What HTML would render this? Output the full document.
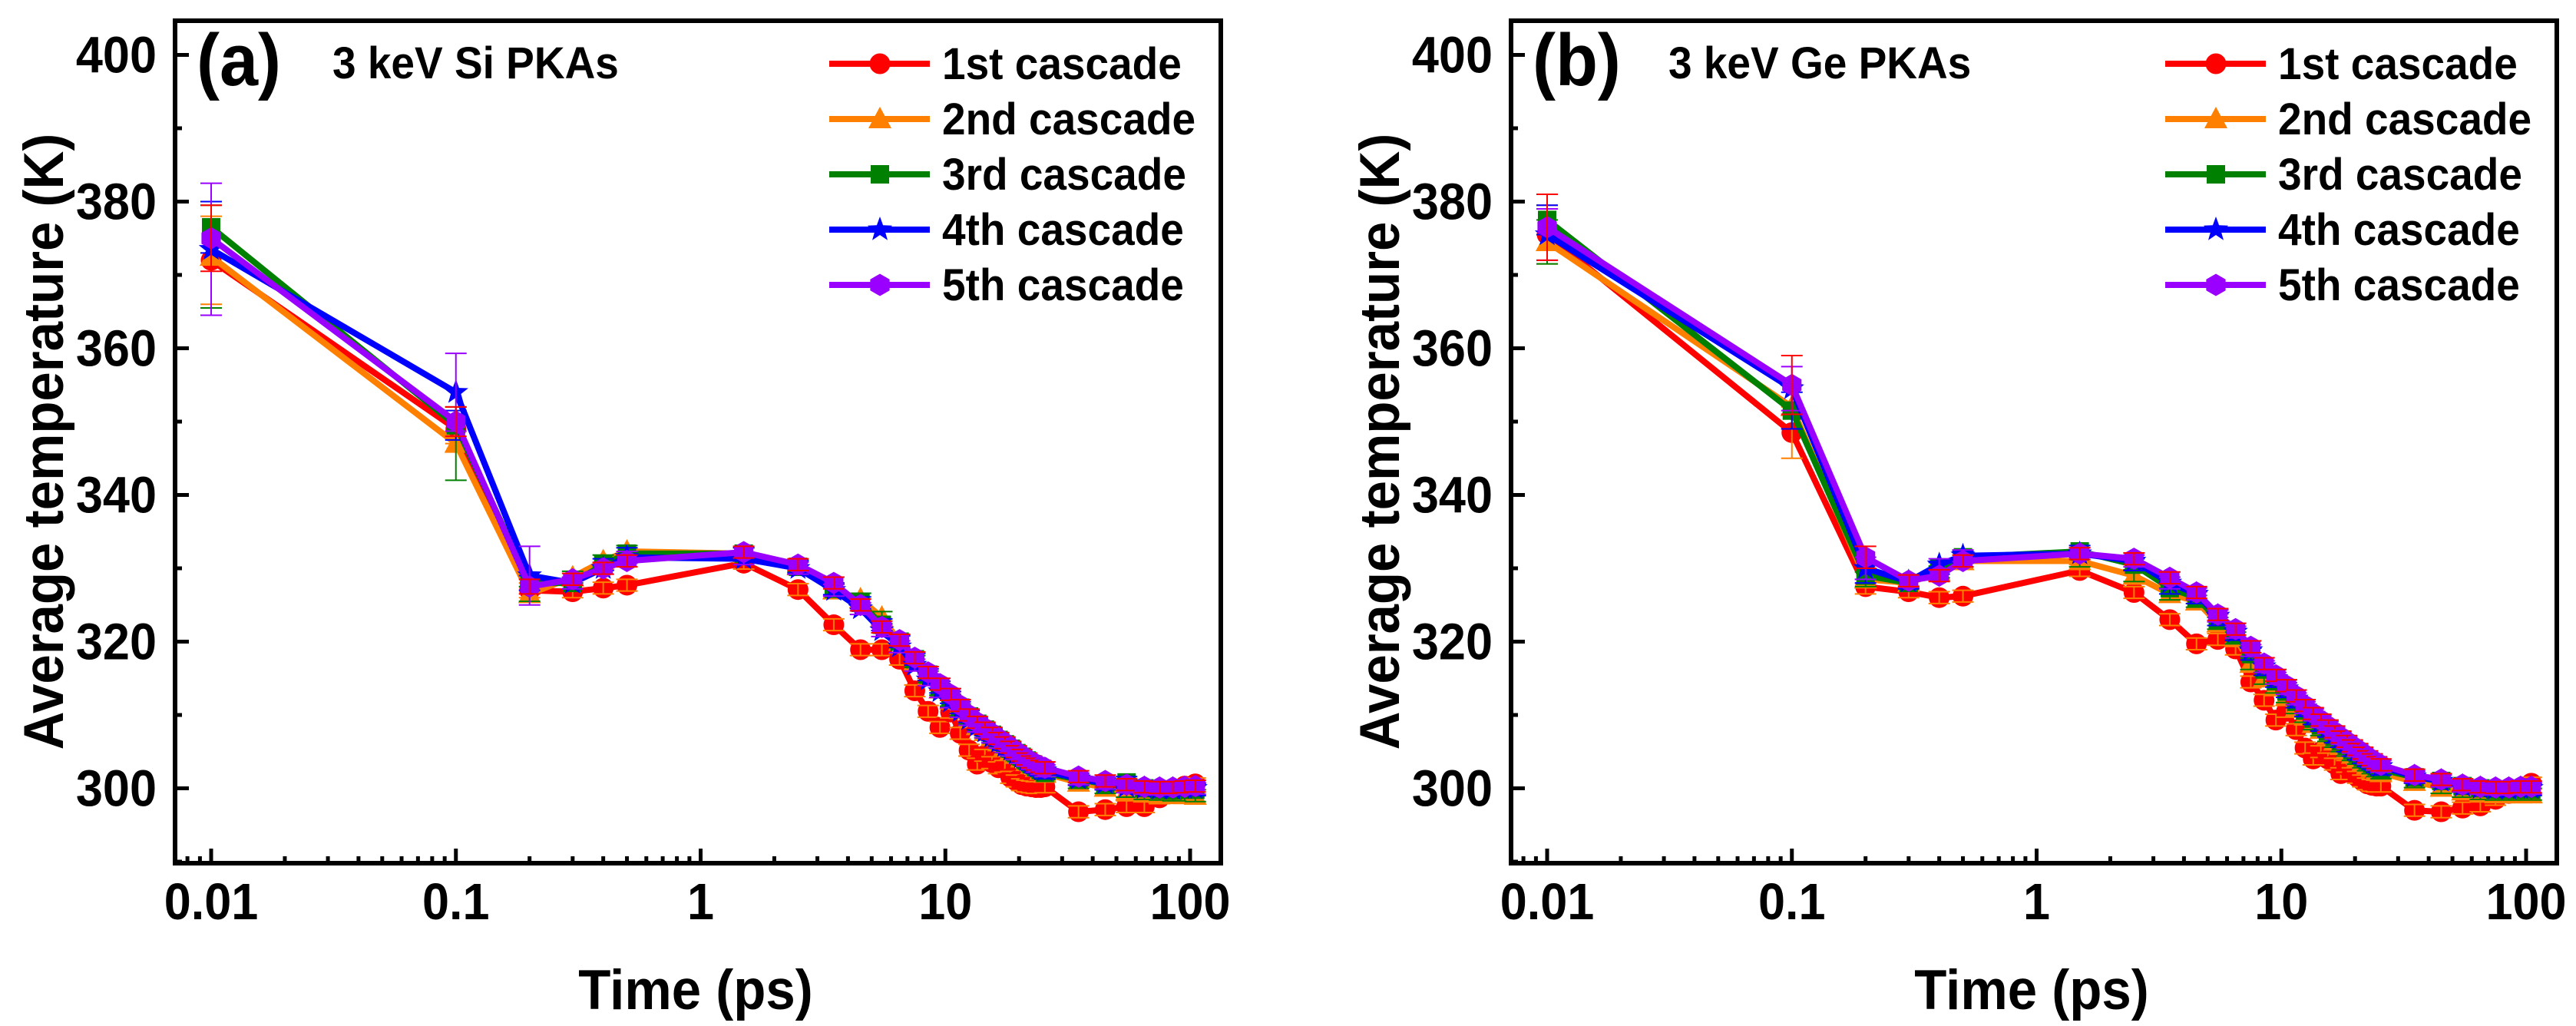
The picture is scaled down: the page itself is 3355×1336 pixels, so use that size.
<!DOCTYPE html>
<html><head><meta charset="utf-8"><style>
html,body{margin:0;padding:0;background:#fff;}
svg{display:block;font-family:"Liberation Sans",Arial,sans-serif;font-weight:bold;}
</style></head><body>
<svg id="chart" width="3355" height="1336" viewBox="0 0 3355 1336" xmlns="http://www.w3.org/2000/svg"></svg>
<script>
const times = [0.01,0.1,0.2,0.3,0.4,0.5,1.5,2.5,3.5,4.5,5.5,6.5,7.5,8.5,9.5,10.5,11.5,12.5,13.5,14.5,15.5,16.5,17.5,18.5,19.5,20.5,21.5,22.5,23.5,24.5,25.5,35,45,55,65,75,85,95,105];
const seriesNames = ["1st cascade","2nd cascade","3rd cascade","4th cascade","5th cascade"];
const yTicks = [300,320,340,360,380,400];
const xTicks = [0.01,0.1,1,10,100];
const xTickLabels = ["0.01","0.1","1","10","100"];

const aRed = [372,349,327,326.8,327.3,327.7,330.7,327.1,322.3, 318.9,318.9,317.6,313.3,310.5,308.3,310.4,307.5,305.2,303.3,304.5,303.5,302.8,303,301.5,301,300.5,300.3,300.2,300.1,300.1,300.2, 296.8,297.1,297.5,297.5,298.7,299.4,300.3,300.6];
const aOrange = [372.5,347,326.5,328.8,331,332.3,332,330.3,327, 325.8,323.3,320,317.3,315.2,313.5,312,310.7,309.5,308.5,307.7,307,306.3,305.7,305.1,304.6,304.1,303.6,303.2,302.8,302.4,302, 300.8,300.1,299.6,299.3,299.2,299.1,299.1,299];
const aGreen = [376.5,349.5,328,328,330.5,332,332,330.2,327.2, 325.3,322.3,320,317.6,315.5,313.8,312.4,311,309.8,308.8,308,307.3,306.6,306,305.4,304.8,304.3,303.8,303.3,302.9,302.5,302.1, 301.2,300.6,300.8,300,299.8,299.7,299.8,299.8];
const aBlue = [373.5,354,329,328,330,331.5,331.3,330,327, 324.5,321.5,319.3,316.8,314.8,313.2,311.8,310.5,309.4,308.5,307.7,307,306.3,305.7,305.2,304.7,304.2,303.8,303.4,303,302.7,302.4, 301.3,300.7,300.2,300,299.9,299.9,300,300];
const aPurple = [375,350,327.5,328.5,330,331,332.2,330.5,328, 325,322,320.2,317.8,315.8,314.2,312.8,311.3,310,309,308.2,307.5,306.8,306.2,305.6,305,304.5,304,303.6,303.3,303,302.8, 301.6,301,300.5,300.2,300.1,300.1,300.2,300.3];

const bRed = [375.5,348.5,327.5,326.8,326,326.2,329.7,326.7,323, 319.7,320.3,319,314.5,312,309.3,310.5,308,305.5,304,305,304,303.3,302,303,302,301.5,301,300.6,300.4,300.3,300.3, 297,296.8,297.3,297.6,298.5,299.3,300,300.7];
const bOrange = [374.5,352,328.5,328,329.5,331,331,329,326.5, 325.5,322.5,320.5,317,315,313.8,312.5,311,309.8,308.8,308,307.2,306.4,305.8,305.2,304.6,304.1,303.6,303.2,302.8,302.4,302.1, 300.9,300.1,299.6,299.3,299.2,299.2,299.2,299.2];
const bGreen = [377.5,351.5,329,328,330,331.5,332.3,330.5,327.3, 326,323,321,318.3,316.2,314.6,313.2,311.8,310.6,309.5,308.6,307.8,307,306.4,305.8,305.2,304.7,304.2,303.8,303.4,303,302.6, 301.5,301,300.3,300,299.8,299.8,299.8,299.8];
const bBlue = [375.5,354.5,330,328.2,330.5,331.7,332,331,328, 326.5,323.5,321.3,318.8,316.6,315,313.6,312.2,311,310,309.1,308.3,307.5,306.8,306.2,305.6,305.1,304.6,304.1,303.7,303.3,303, 301.6,301,300.3,300,299.9,299.9,300,300];
const bPurple = [376.5,355,331.5,328.3,329,331,332,331.3,328.7, 326.7,323.7,321.7,319.3,317,315.4,314,312.6,311.3,310.2,309.3,308.5,307.7,307,306.4,305.8,305.3,304.8,304.3,303.9,303.5,303.2, 301.8,301.2,300.5,300.2,300.1,300.1,300.2,300.2];

const aErrEarly = [[6,2,1],[7,5,1],[3.5,2,1],[9,5.3,4],[4.5,2,1]];
const bErrEarly = [[4,3.5,1],[3,3,1],[2,2.5,1],[3.5,3,1.5],[4.5,4,1.5]];
const errDefault = 0.8;

const colors = ["#ff0000","#ff8000","#008000","#0000ff","#9900ff"];
const NS = "http://www.w3.org/2000/svg";
const svg = document.getElementById("chart");
function mk(tag, attrs, parent){const e=document.createElementNS(NS,tag);for(const k in attrs)e.setAttribute(k,attrs[k]);(parent||svg).appendChild(e);return e;}
function txt(parent,x,y,size,anchor,content,extra){
  const t=mk("text",{x:0,y:0,"font-size":size,"text-anchor":anchor,transform:`translate(${x},${y}) ${extra||""} scale(1,1.06)`},parent);
  t.textContent=content;
  return t;
}

function marker(g, kind, x, y, c){
  let e;
  if(kind===0){e=mk("circle",{cx:x,cy:y,r:13.5,fill:c},g);}
  else if(kind===1){e=mk("polygon",{points:`${x},${y-16} ${x+15},${y+12} ${x-15},${y+12}`,fill:c},g);}
  else if(kind===2){e=mk("rect",{x:x-12,y:y-12,width:24,height:24,fill:c},g);}
  else if(kind===3){let p=[];for(let i=0;i<10;i++){const r=i%2?7:17,a=-Math.PI/2+i*Math.PI/5;p.push((x+r*Math.cos(a)).toFixed(1)+","+(y+r*Math.sin(a)).toFixed(1));}e=mk("polygon",{points:p.join(" "),fill:c},g);}
  else {let p=[];for(let i=0;i<6;i++){const a=-Math.PI/2+i*Math.PI/3;p.push((x+14.5*Math.cos(a)).toFixed(1)+","+(y+14.5*Math.sin(a)).toFixed(1));}e=mk("polygon",{points:p.join(" "),fill:c},g);}
  return e;
}

function panel(off, letter, title, data, errEarly){
  const L=228+off,R=1590+off,T=27,B=1124;
  const X=t=>275+off+(Math.log10(t)+2)*318.75;
  const Y=v=>1026.5-(v-300)*9.55;
  const g=mk("g",{});
  
  
  for(let s=0;s<5;s++){
    const sg=mk("g",{},g);
    
    
    const vals=data[s];
    const pts=vals.map((v,i)=>X(times[i]).toFixed(1)+","+Y(v).toFixed(1)).join(" ");
    const ln=mk("polyline",{points:pts,fill:"none",stroke:colors[s],"stroke-width":8,"stroke-linejoin":"round"},sg);
    
    
    vals.forEach((v,i)=>{
      const x=X(times[i]),y=Y(v);
      const m=marker(sg,s,x,y,colors[s]);
      
      
      const er=i<3?errEarly[s][i]:errDefault;
      const y1=Y(v+er),y2=Y(v-er);
      const eb=mk("path",{d:`M${x},${y1}V${y2}M${x-14},${y1}H${x+14}M${x-14},${y2}H${x+14}`,stroke:colors[(s+1)%5],"stroke-width":2,fill:"none"},sg);
      
      
    });
  }
  const fr=mk("rect",{x:L,y:T,width:R-L,height:B-T,fill:"none",stroke:"#000","stroke-width":6},g);
  
  
  for(let v=290;v<=400;v+=10){
    const y=Y(v),major=(v%20===0);
    mk("line",{x1:L,x2:L+(major?18:9),y1:y,y2:y,stroke:"#000","stroke-width":5},g);
  }
  yTicks.forEach(v=>{
    const t=txt(g,L-24,Y(v)+23,63,"end",String(v));
    
    
  });
  for(let d=-3;d<=2;d++){
    for(let k=1;k<=9;k++){
      const t=k*Math.pow(10,d);
      const x=X(t);
      if(x<L+3||x>R-3)continue;
      mk("line",{x1:x,x2:x,y1:B,y2:B-(k===1?19:9),stroke:"#000","stroke-width":5},g);
    }
  }
  xTicks.forEach((v,i)=>{
    const t=txt(g,X(v),1197,63,"middle",xTickLabels[i]);
    
    
  });
  const xt=txt(g,906+off,1314,69,"middle","Time (ps)");
  
  
  const yt=txt(g,82+off,575,69,"middle","Average temperature (K)","rotate(-90)");
  
  
  const pl=txt(g,256+off,111,90,"start","("+letter+")");
  
  
  const ti=txt(g,433+off,102,55,"start",title);
  
  
  for(let s=0;s<5;s++){
    const lg=mk("g",{},g);
    
    
    const y=83+s*72;
    mk("line",{x1:1080+off,x2:1211+off,y1:y,y2:y,stroke:colors[s],"stroke-width":8},lg);
    marker(lg,s,1146+off,y,colors[s]);
    txt(lg,1227+off,y+20,55,"start",seriesNames[s]);
  }
}
panel(0,"a","3 keV Si PKAs",[aRed,aOrange,aGreen,aBlue,aPurple],aErrEarly);
panel(1740,"b","3 keV Ge PKAs",[bRed,bOrange,bGreen,bBlue,bPurple],bErrEarly);
</script>
</body></html>
